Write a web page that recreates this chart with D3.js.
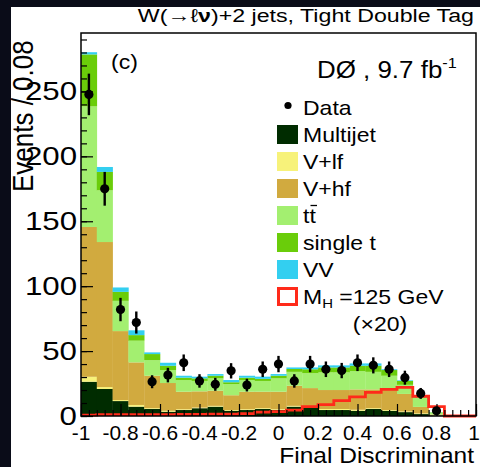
<!DOCTYPE html>
<html>
<head>
<meta charset="utf-8">
<script src="https://cdn.jsdelivr.net/npm/d3@7"></script>
<style>
  body { margin: 0; background: #0a0c18; }
  svg { display: block; font-family: "Liberation Sans", Arial, sans-serif; }
</style>
</head>
<body>
<svg id="chart"></svg>
<script>
// bins of width 0.08 from -1 to 1
const binEdges = d3.range(26).map(i => -1 + i * 0.08);

// stacked background components, bottom to top (events per bin)
const multijet = [26.4, 20.8, 11.5, 7.2, 5.4, 3.3, 4.6, 6, 7.2, 4, 4.6, 5.4, 4.6, 7.2, 6.7, 4.6, 4.6, 4, 5.4, 4, 3, 1.5, 0.3, 0, 0];
const vlf      = [3.8, 1.5, 0.8, 1.3, 0.6, 0.7, 0.6, 0.5, 0.6, 0.6, 0.6, 0.6, 0.6, 0.6, 0.6, 0.8, 0.8, 0.8, 0.6, 0.6, 0.5, 0.5, 0.2, 0, 0];
const vhf      = [115.4, 111.7, 53.1, 32.8, 25, 21.4, 13.5, 12.5, 11.7, 11.4, 13.5, 12.7, 13.5, 15.5, 14.2, 14.6, 14.6, 15.7, 14.5, 15.4, 13.5, 5, 0.7, 0, 0];
const ttbar    = [92.9, 39.8, 23.3, 16.7, 12, 10, 9, 8, 9.5, 8.6, 9, 8.3, 10.3, 10.7, 11.5, 13.6, 13.6, 14.1, 13.5, 11, 7, 7, 1.5, 0, 0];
const singleT  = [40, 14.2, 6.9, 4.3, 4.7, 3.3, 1.8, 2, 2, 1.4, 1.8, 1.6, 2, 2.2, 3, 3.8, 3.8, 4.1, 4.7, 4.4, 3, 0.5, 0.2, 0, 0];
const vv       = [1.7, 3.8, 3.4, 3.7, 1.3, 2.3, 1.5, 1.3, 1.3, 1.7, 1.5, 1.7, 1.3, 1.2, 1.4, 1.6, 1.6, 1.8, 1.8, 0.6, 0.5, 0.5, 0.1, 0, 0];

// Higgs signal M_H = 125 GeV (x20)
const signal = [0.6, 1, 1, 1, 1, 1.1, 1.2, 1.3, 1.4, 1.5, 1.8, 3, 3.3, 4.6, 7.2, 8.8, 11.8, 14.8, 18.2, 20.5, 22, 15.2, 7.2, 0, 0];

// data and its error bars
const dataVals = [247.7, 175, 82, 72, 26.4, 31.5, 41, 27, 24.4, 34.8, 23.8, 36, 40, 27, 40, 36, 35, 41, 39, 36, 29.5, 17.4, 4, null, null];
const dataErrs = [16, 13, 9, 8.5, 5, 5.6, 6.4, 5.2, 5, 5.9, 4.9, 6, 6.3, 5.2, 6.3, 6, 5.9, 6.4, 6.2, 6, 5.4, 4.2, 2.5, 0, 0];

const xTickVals = [-1, -0.8, -0.6, -0.4, -0.2, 0, 0.2, 0.4, 0.6, 0.8, 1];
const xTickLabels = ["-1", "-0.8", "-0.6", "-0.4", "-0.2", "0", "0.2", "0.4", "0.6", "0.8", "1"];
const yTickVals = [0, 50, 100, 150, 200, 250];

const seriesNames = ["Multijet", "V+lf", "V+hf", "ttbar", "single t", "VV"];
const seriesColors = ["#002c00", "#f7f27a", "#d1aa3f", "#a3ef70", "#6acd0a", "#33cff0"];

const width = 480, height = 467;

const svg = d3.select("#chart").attr("width", width).attr("height", height);

// figure background
svg.append("rect").attr("width", width).attr("height", height).attr("fill", "#0a0c18");
svg.append("rect").attr("x", 11).attr("y", 7).attr("width", width - 11).attr("height", height - 7).attr("fill", "#fff");

const x = d3.scaleLinear().domain([-1, 1]).range([81, 476]);
const y = d3.scaleLinear().domain([0, 295]).range([416, 33]);

// the source picture is stretched sideways, so text gets a horizontal scale
function txt(px, py, str, size, anchor, sx) {
  return svg.append("text")
    .attr("transform", `translate(${px},${py}) scale(${sx || 1.15},1)`)
    .attr("text-anchor", anchor || "start")
    .attr("font-size", size)
    .attr("fill", "#000")
    .text(str);
}

// stack
const table = binEdges.slice(0, 25).map((e, i) => ({
  lo: e, hi: binEdges[i + 1],
  "Multijet": multijet[i], "V+lf": vlf[i], "V+hf": vhf[i],
  "ttbar": ttbar[i], "single t": singleT[i], "VV": vv[i]
}));
const stack = d3.stack().keys(seriesNames)(table);

const plot = svg.append("g");
stack.forEach((layer, k) => {
  plot.append("g").attr("fill", seriesColors[k])
    .selectAll("rect").data(layer).enter().append("rect")
      .attr("x", d => x(d.data.lo))
      .attr("width", d => x(d.data.hi) - x(d.data.lo) + 0.3)
      .attr("y", d => y(d[1]))
      .attr("height", d => Math.max(0, y(d[0]) - y(d[1])));
});

// signal step line
const sigPts = signal.map((v, i) => [binEdges[i], v]);
sigPts.push([binEdges[25], signal[24]]);
plot.append("path")
  .attr("d", d3.line().x(d => x(d[0])).y(d => y(d[1])).curve(d3.curveStepAfter)(sigPts))
  .attr("fill", "none").attr("stroke", "#ff2a1a").attr("stroke-width", 2.8);

// axes ticks (inward)
const xMinor = d3.range(51).map(i => -1 + i * 0.04);
const yMinor = d3.range(30).map(i => i * 10);
svg.append("g").attr("transform", "translate(0,416)")
  .call(d3.axisBottom(x).tickValues(xMinor).tickSize(-6).tickFormat(""))
  .call(g => g.select(".domain").remove());
svg.append("g").attr("transform", "translate(0,416)")
  .call(d3.axisBottom(x).tickValues(xTickVals).tickSize(-12).tickFormat(""))
  .call(g => g.select(".domain").remove());
svg.append("g").attr("transform", "translate(81,0)")
  .call(d3.axisLeft(y).tickValues(yMinor).tickSize(-6).tickFormat(""))
  .call(g => g.select(".domain").remove());
svg.append("g").attr("transform", "translate(81,0)")
  .call(d3.axisLeft(y).tickValues(yTickVals).tickSize(-12).tickFormat(""))
  .call(g => g.select(".domain").remove());
svg.selectAll(".tick line").attr("stroke", "#000").attr("stroke-width", 1.2);

// data points
const pts = svg.append("g");
dataVals.forEach((v, i) => {
  if (v == null) return;
  const cx = x((binEdges[i] + binEdges[i + 1]) / 2);
  pts.append("line").attr("x1", cx).attr("x2", cx)
    .attr("y1", y(v + dataErrs[i])).attr("y2", y(v - dataErrs[i]))
    .attr("stroke", "#000").attr("stroke-width", 2.4);
  pts.append("circle").attr("cx", cx).attr("cy", y(v)).attr("r", 4.6).attr("fill", "#000");
});

// frame
svg.append("rect").attr("x", 81).attr("y", 33).attr("width", 395).attr("height", 383)
  .attr("fill", "none").attr("stroke", "#000").attr("stroke-width", 1.5);

// tick labels
xTickVals.forEach((v, i) => {
  const last = i === xTickVals.length - 1;
  txt(last ? x(v) - 2 : x(v), 440, xTickLabels[i], 20.5, "middle", 1.02);
});
yTickVals.forEach(v => txt(77, y(v) + 9, String(v), 25, "end", 1.25));

// axis titles
txt(474, 463, "Final Discriminant", 21.5, "end", 1.14);
svg.append("text")
  .attr("transform", `translate(33,192) scale(1.15,1) rotate(-90)`)
  .attr("font-size", 26).attr("fill", "#000").text("Events / 0.08");

// title and labels
const ttl = txt(474, 22, "W(\u2192\u2113", 19, "end", 1.22);
ttl.append("tspan").attr("font-weight", "bold").text("\u03bd");
ttl.append("tspan").text(")+2 jets, Tight Double Tag");
txt(111, 69, "(c)", 20);
const d0 = txt(317, 78, "D\u00d8 , 9.7 fb", 24, "start", 1.08);
d0.append("tspan").attr("dy", -10).attr("font-size", 15).text("-1");

// legend
const legY0 = 107.5, legStep = 27;
svg.append("circle").attr("cx", 288).attr("cy", legY0 - 2).attr("r", 3.6).attr("fill", "#000");
txt(303, legY0 + 7, "Data", 20);
const legLabels = ["Multijet", "V+lf", "V+hf", null, "single t", "VV"];
seriesNames.forEach((name, k) => {
  const cy = legY0 + (k + 1) * legStep;
  svg.append("rect").attr("x", 277).attr("y", cy - 9.5).attr("width", 21).attr("height", 19)
    .attr("fill", seriesColors[k]);
  if (name === "ttbar") {
    const t = txt(303, cy + 7, "t", 20);
    t.append("tspan").text("t");
    // overline bar on second t
    svg.append("line").attr("x1", 310.5).attr("x2", 317).attr("y1", cy - 10).attr("y2", cy - 10)
      .attr("stroke", "#000").attr("stroke-width", 1.3);
  } else {
    txt(303, cy + 7, legLabels[k], 20);
  }
});
const cyH = legY0 + 7 * legStep;
svg.append("rect").attr("x", 278.5).attr("y", cyH - 8).attr("width", 18).attr("height", 16)
  .attr("fill", "none").attr("stroke", "#ff2a1a").attr("stroke-width", 3);
const mh = txt(303, cyH + 7, "M", 20);
mh.append("tspan").attr("font-size", 13).attr("dy", 4).text("H");
mh.append("tspan").attr("dy", -4).text(" =125 GeV");
txt(380, cyH + 34, "(\u00d720)", 20, "middle");
</script>
</body>
</html>
